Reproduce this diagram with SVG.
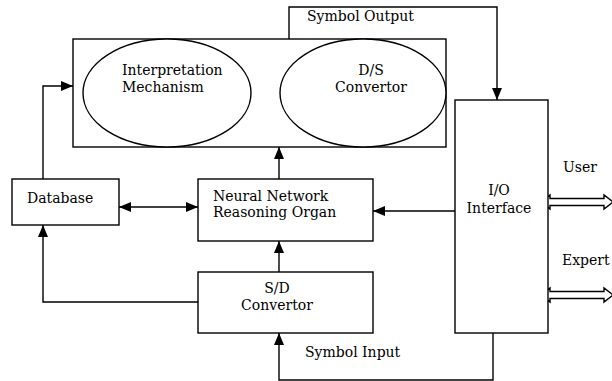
<svg xmlns="http://www.w3.org/2000/svg" width="612" height="381" viewBox="0 0 612 381">
<defs>
<style>
.box{fill:#fff;stroke:#000;stroke-width:1.4}
.ell{fill:#fff;stroke:#000;stroke-width:1.4}
.ln{fill:none;stroke:#000;stroke-width:1.4}
.t{font-family:"DejaVu Serif","Liberation Serif",serif;font-size:14px;fill:#000}
.m{text-anchor:middle}
.hol{fill:#fff;stroke:#000;stroke-width:1.4}
</style>
<marker id="ah" viewBox="0 0 12 10" refX="12" refY="5" markerWidth="12" markerHeight="10" markerUnits="userSpaceOnUse" orient="auto-start-reverse">
<path d="M0,0 L12,5 L0,10 Z" fill="#000"/>
</marker>
</defs>
<rect width="612" height="381" fill="#fff"/>
<g id="connectors">
<path class="ln" d="M289,39 V7 H497 V100" marker-end="url(#ah)"/>
<path class="ln" d="M43,179 V86 H73" marker-end="url(#ah)"/>
<path class="ln" d="M119,207 H198" marker-start="url(#ah)" marker-end="url(#ah)"/>
<path class="ln" d="M279,179 V147" marker-end="url(#ah)"/>
<path class="ln" d="M455,211 H373" marker-end="url(#ah)"/>
<path class="ln" d="M279,272 V241" marker-end="url(#ah)"/>
<path class="ln" d="M198,302 H43 V225" marker-end="url(#ah)"/>
<path class="ln" d="M493,333 V380 H279 V333" marker-end="url(#ah)"/>
<polygon class="hol" points="541,202 550,195 550,198.5 604,198.5 604,195 613,202 604,209 604,205.5 550,205.5 550,209"/>
<polygon class="hol" points="541,295 550,288 550,291.5 604,291.5 604,288 613,295 604,302 604,298.5 550,298.5 550,302"/>
</g>
<g id="top-box">
<rect class="box" x="73" y="39" width="373" height="108"/>
</g>
<g id="interpretation">
<ellipse class="ell" cx="167" cy="93" rx="84" ry="54"/>
<text class="t" x="122" y="75">Interpretation</text>
<text class="t" x="122" y="92">Mechanism</text>
</g>
<g id="ds-convertor">
<ellipse class="ell" cx="363" cy="93" rx="83" ry="54"/>
<text class="t m" x="371" y="75">D/S</text>
<text class="t m" x="371" y="92">Convertor</text>
</g>
<g id="symbol-output-label">
<text class="t" x="307" y="21">Symbol Output</text>
</g>
<g id="database">
<rect class="box" x="12" y="179" width="107" height="46"/>
<text class="t" x="27" y="203">Database</text>
</g>
<g id="nn">
<rect class="box" x="198" y="179" width="175" height="62"/>
<text class="t" x="213" y="201">Neural Network</text>
<text class="t" x="213" y="217">Reasoning Organ</text>
</g>
<g id="sd">
<rect class="box" x="198" y="272" width="175" height="61"/>
<text class="t m" x="277" y="293">S/D</text>
<text class="t m" x="277" y="310">Convertor</text>
</g>
<g id="io">
<rect class="box" x="455" y="100" width="93" height="233"/>
<text class="t m" x="499" y="195">I/O</text>
<text class="t m" x="499" y="213">Interface</text>
</g>
<g id="labels">
<text class="t" x="563" y="172">User</text>
<text class="t" x="562" y="265">Expert</text>
<text class="t" x="305" y="357">Symbol Input</text>
</g>
</svg>
